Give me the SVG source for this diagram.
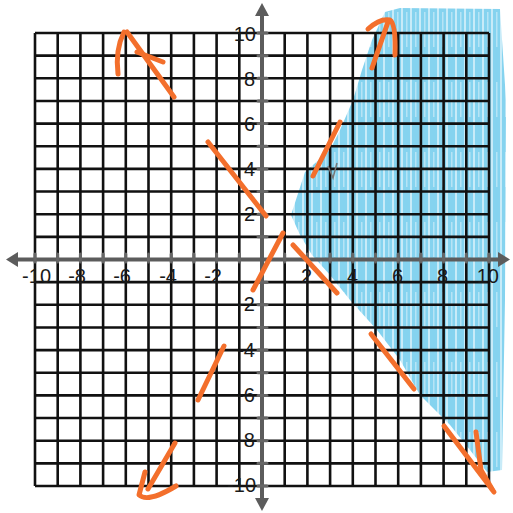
<svg xmlns="http://www.w3.org/2000/svg" width="513" height="513" viewBox="0 0 513 513">
<style>
.grid{stroke:#111;stroke-width:2.6;fill:none}
.axis{stroke:#5c5c5c;stroke-width:4;fill:none}
.tick{stroke:#666;stroke-width:3;stroke-linecap:round}
.lbl{font-family:"Liberation Sans",Arial,sans-serif;font-size:20px;fill:#1a1a1a}
.xl{text-anchor:end}
.yl{text-anchor:end}
.or{stroke:#f36f2c;stroke-width:5;stroke-linecap:round;stroke-linejoin:round;fill:none}
</style>
<defs>
<pattern id="pencil" width="9" height="70" patternUnits="userSpaceOnUse">
<rect width="9" height="70" fill="#56c2e9"/>
<rect x="5" width="2" height="70" fill="#ffffff" opacity="0.55"/>
<rect x="1" y="12" width="1.5" height="35" fill="#ffffff" opacity="0.4"/>
</pattern>
</defs>
<rect width="513" height="513" fill="#ffffff"/>
<g id="shading">
<polygon points="400,8 500,9 506,100 505,300 502,470 487,472 470,450 450,425 420,395 400,360 377,330 350,300 330,275 312,255 300,235 291,215 305,172 330,150 340,130 353,100 362,70 372,40 385,12" fill="url(#pencil)" opacity="0.72"/>
</g>
<g id="grid">
<path class="grid" d="M35,33V486M57.7,33V486M80.4,33V486M103.1,33V486M125.8,33V486M148.5,33V486M171.2,33V486M193.9,33V486M216.6,33V486M239.3,33V486M284.7,33V486M307.4,33V486M330.1,33V486M352.8,33V486M375.5,33V486M398.2,33V486M420.9,33V486M443.6,33V486M466.3,33V486M489,33V486"/>
<path class="grid" d="M35,33H489M35,55.65H489M35,78.3H489M35,100.95H489M35,123.6H489M35,146.25H489M35,168.9H489M35,191.55H489M35,214.2H489M35,236.85H489M35,282.15H489M35,304.8H489M35,327.45H489M35,350.1H489M35,372.75H489M35,395.4H489M35,418.05H489M35,440.7H489M35,463.35H489M35,486H489"/>
</g>
<g id="axes">
<path class="axis" d="M14,259.5H502M262,11V504"/>
<polygon points="6,259.5 18,252 18,267" fill="#5c5c5c"/>
<polygon points="510,259.5 498,252 498,267" fill="#5c5c5c"/>
<polygon points="262,3 255,16 269,16" fill="#5c5c5c"/>
<polygon points="262,511 255,498 269,498" fill="#5c5c5c"/>
<path class="tick" d="M35,254V262M57.7,254V262M80.4,254V262M103.1,254V262M125.8,254V262M148.5,254V262M171.2,254V262M193.9,254V262M216.6,254V262M239.3,254V262M284.7,254V262M307.4,254V262M330.1,254V262M352.8,254V262M375.5,254V262M398.2,254V262M420.9,254V262M443.6,254V262M466.3,254V262M489,254V262"/>
<path class="tick" d="M258,33H267M258,55.65H267M258,78.3H267M258,100.95H267M258,123.6H267M258,146.25H267M258,168.9H267M258,191.55H267M258,214.2H267M258,236.85H267M258,282.15H267M258,304.8H267M258,327.45H267M258,350.1H267M258,372.75H267M258,395.4H267M258,418.05H267M258,440.7H267M258,463.35H267M258,486H267"/>
</g>
<g id="labels">
<text class="lbl xl" x="51" y="283">-10</text>
<text class="lbl xl" x="86" y="283">-8</text>
<text class="lbl xl" x="131" y="283">-6</text>
<text class="lbl xl" x="177" y="283">-4</text>
<text class="lbl xl" x="222" y="283">-2</text>
<text class="lbl xl" x="312" y="283">2</text>
<text class="lbl xl" x="358" y="283">4</text>
<text class="lbl xl" x="403" y="283">6</text>
<text class="lbl xl" x="448" y="283">8</text>
<text class="lbl xl" x="499" y="283">10</text>
<text class="lbl yl" x="256" y="41">10</text>
<text class="lbl yl" x="255" y="86">8</text>
<text class="lbl yl" x="255" y="131">6</text>
<text class="lbl yl" x="255" y="176">4</text>
<text class="lbl yl" x="255" y="221">2</text>
<text class="lbl yl" x="255" y="311">-2</text>
<text class="lbl yl" x="255" y="357">-4</text>
<text class="lbl yl" x="255" y="402">-6</text>
<text class="lbl yl" x="255" y="447">-8</text>
<text class="lbl yl" x="256" y="492">-10</text>
</g>
<g id="marks">
<path d="M328,166L333,178L337,163" stroke="#777" stroke-width="1.5" fill="none"/>
</g>
<g id="connectors">
<g id="line1">
<path class="or" d="M148,489L175,443"/>
<path class="or" d="M145,472L139,495Q148,503 176,486"/>
<path class="or" d="M198,400L224,346"/>
<path class="or" d="M253,290L283,233"/>
<path class="or" d="M313,176L340,122"/>
<path class="or" d="M372,68L388,22"/>
<path class="or" d="M368,29Q380,18 390,20Q396,24 395,55"/>
</g>
<g id="line2">
<path class="or" d="M118,74Q115,50 124,32"/>
<path class="or" d="M127,32L174,97"/>
<path class="or" d="M137,52L163,62"/>
<path class="or" d="M208,142L266,216"/>
<path class="or" d="M293,245L337,293"/>
<path class="or" d="M371,334L414,389"/>
<path class="or" d="M444,426L494,492"/>
<path class="or" d="M476,432L481,470L492,489"/>
</g>
</g>
</svg>
